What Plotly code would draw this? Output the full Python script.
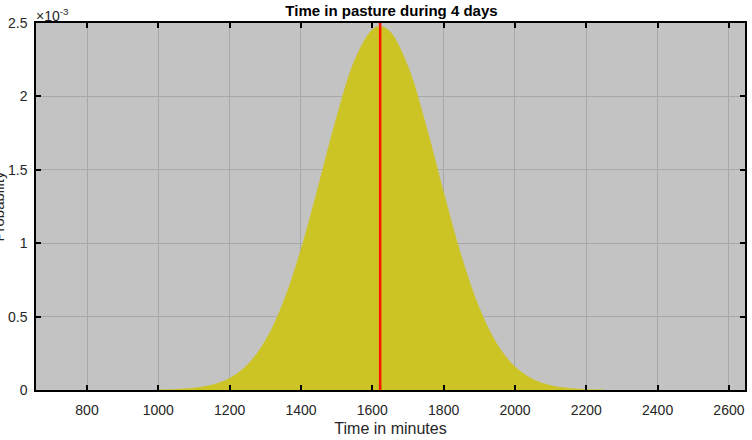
import plotly.graph_objects as go

# Estimated density values (minutes, probability)
minutes = [1000, 1050, 1100, 1150, 1200, 1250, 1300, 1350, 1400, 1450, 1500, 1550,
           1600, 1622, 1650, 1700, 1750, 1800, 1850, 1900, 1950, 2000, 2050, 2100,
           2150, 2200, 2250]
probability = [0.0000014, 0.0000045, 0.0000129, 0.0000337, 0.0000799, 0.000172,
               0.000335, 0.000595, 0.000957, 0.001400, 0.001859, 0.002242,
               0.002455, 0.002478, 0.002441, 0.002204, 0.001807, 0.001345,
               0.000909, 0.000558, 0.000311, 0.000158, 0.0000724, 0.0000302,
               0.0000115, 0.0000039, 0.0000012]
mean_minutes = 1622
x_range = [657, 2645]
y_range = [0, 0.0025]
x_ticks = [800, 1000, 1200, 1400, 1600, 1800, 2000, 2200, 2400, 2600]
y_ticks = [0, 0.0005, 0.001, 0.0015, 0.002, 0.0025]
y_ticktext = ["0", "0.5", "1", "1.5", "2", "2.5"]

FONT = "Liberation Sans, Arial, Helvetica, sans-serif"

fig = go.Figure()
fig.add_trace(go.Scatter(
    x=minutes, y=probability, mode="lines", line=dict(color="rgb(204,196,36)", width=0.5, shape="spline"),
    fill="tozeroy", fillcolor="rgb(204,196,36)", hoverinfo="skip", showlegend=False))
fig.add_trace(go.Scatter(
    x=[mean_minutes, mean_minutes], y=y_range, mode="lines",
    line=dict(color="rgb(255,20,0)", width=2.5), showlegend=False))

axis_common = dict(showline=True, linecolor="black", linewidth=1.5, mirror="ticks",
                   ticks="inside", ticklen=5, tickwidth=1.5, tickcolor="black",
                   showgrid=True, gridcolor="rgb(168,168,168)", gridwidth=1,
                   zeroline=False, tickfont=dict(family=FONT, size=14, color="#262626"))

fig.update_xaxes(range=x_range, tickvals=x_ticks, ticklabelstandoff=6, **axis_common,
                 title=dict(text="Time in minutes", font=dict(family=FONT, size=16, color="#262626"), standoff=6))
fig.update_yaxes(range=y_range, tickvals=y_ticks, ticktext=y_ticktext, ticklabelstandoff=4, **axis_common)

fig.update_layout(
    width=752, height=440,
    margin=dict(l=36, r=5, t=23, b=50),
    plot_bgcolor="rgb(195,195,195)", paper_bgcolor="white",
    title=dict(text="<b>Time in pasture during 4 days</b>", x=391.5 / 752, xanchor="center",
               y=1 - 11 / 440, yanchor="middle", font=dict(family=FONT, size=15, color="black")),
    annotations=[
        dict(text="×10<sup>-3</sup>", xref="paper", yref="paper", x=0.0, y=1.0, xanchor="left",
             yanchor="bottom", showarrow=False, font=dict(family=FONT, size=14, color="#262626"),
             xshift=-2, yshift=-3),
        dict(text="Probability", xref="paper", yref="paper", x=0.0, y=0.5, xanchor="center",
             yanchor="middle", textangle=-90, showarrow=False, xshift=-38,
             font=dict(family=FONT, size=15, color="#262626")),
    ],
)

fig.write_html("out.html")
